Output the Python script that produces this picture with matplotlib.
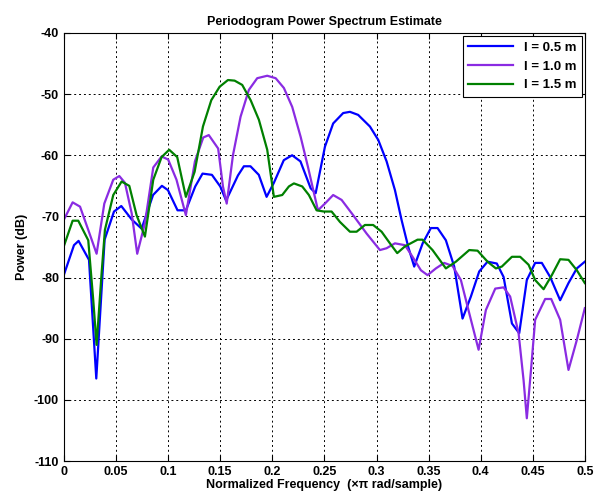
import matplotlib
matplotlib.use('Agg')
import matplotlib.pyplot as plt

# l = 0.5 m
f_05 = [0.0, 0.0096, 0.014, 0.024, 0.031, 0.039, 0.048, 0.055, 0.065, 0.0745, 0.0855, 0.094, 0.0998,
        0.109, 0.117, 0.126, 0.133, 0.142, 0.150, 0.1556, 0.167, 0.1727, 0.179, 0.187, 0.1945, 0.2015,
        0.211, 0.219, 0.227, 0.2368, 0.2416, 0.2505, 0.2584, 0.268, 0.2745, 0.2824, 0.2937, 0.3017,
        0.3097, 0.3177, 0.3241, 0.3305, 0.3362, 0.3443, 0.3522, 0.3586, 0.3666, 0.3746, 0.3826, 0.3906,
        0.3986, 0.4066, 0.4155, 0.422, 0.43, 0.437, 0.4443, 0.4523, 0.4587, 0.4667, 0.4763, 0.4843,
        0.4923, 0.5]
p_05 = [-79.5, -74.7, -74.0, -77.1, -96.5, -73.8, -69.2, -68.3, -70.5, -72.0, -66.5, -65.0, -65.7,
        -69.0, -69.0, -65.1, -63.0, -63.2, -65.1, -67.4, -63.3, -61.8, -61.8, -63.2, -66.8, -64.5,
        -60.8, -60.0, -61.0, -65.4, -66.2, -58.6, -54.8, -53.1, -52.9, -53.4, -55.3, -57.5,
        -61.0, -65.7, -70.6, -75.0, -78.2, -74.4, -71.9, -71.9, -73.9, -78.2, -86.7, -83.1,
        -79.0, -77.4, -77.7, -79.9, -87.5, -89.1, -80.4, -77.6, -77.6, -79.9, -83.7, -80.9,
        -78.5, -77.4]

# l = 1.0 m
f_10 = [0.0, 0.0083, 0.0154, 0.0233, 0.0313, 0.0387, 0.0473, 0.0531, 0.0585, 0.065, 0.0703, 0.0777,
        0.0857, 0.0937, 0.1, 0.108, 0.117, 0.1257, 0.1337, 0.139, 0.148, 0.1526, 0.1562, 0.1622,
        0.1695, 0.1775, 0.1855, 0.1951, 0.2032, 0.2111, 0.2191, 0.2272, 0.2342, 0.24, 0.2438, 0.2505,
        0.2584, 0.2665, 0.2776, 0.2905, 0.3033, 0.3097, 0.3177, 0.3273, 0.3346, 0.3426, 0.349, 0.357,
        0.365, 0.373, 0.381, 0.389, 0.398, 0.405, 0.414, 0.422, 0.4283, 0.4364, 0.4412, 0.4443,
        0.4485, 0.4523, 0.4619, 0.4677, 0.4763, 0.4843, 0.4923, 0.5]
p_10 = [-70.5, -67.7, -68.4, -72.2, -76.1, -67.9, -64.0, -63.4, -64.5, -69.5, -76.1, -71.1,
        -62.0, -60.2, -60.7, -64.0, -69.8, -61.0, -57.1, -56.7, -58.9, -65.1, -67.9, -60.0,
        -53.7, -49.3, -47.4, -47.0, -47.4, -49.0, -52.1, -57.0, -61.9, -66.2, -69.0, -67.9,
        -66.5, -67.3, -69.8, -72.8, -75.5, -75.2, -74.4, -74.7, -76.6, -78.8, -79.6, -78.5,
        -77.6, -78.1, -80.4, -85.8, -91.8, -85.3, -81.8, -81.6, -83.1, -89.1, -96.8, -103.0,
        -94.7, -86.9, -83.5, -83.5, -86.9, -95.1, -90.2, -85.0]

# l = 1.5 m
f_15 = [0.0, 0.0083, 0.0137, 0.0233, 0.0281, 0.0313, 0.0361, 0.0393, 0.0473, 0.0553, 0.0627, 0.0697,
        0.0777, 0.0857, 0.0937, 0.101, 0.1087, 0.117, 0.1254, 0.1334, 0.1414, 0.1494, 0.1574, 0.1638,
        0.1711, 0.1792, 0.1871, 0.1951, 0.2015, 0.2095, 0.2159, 0.2207, 0.2287, 0.2351, 0.2425, 0.2495,
        0.2569, 0.2649, 0.2745, 0.2809, 0.2889, 0.2968, 0.3049, 0.3129, 0.3199, 0.3273, 0.3394, 0.3442,
        0.3538, 0.3666, 0.3762, 0.389, 0.397, 0.4066, 0.4146, 0.4203, 0.43, 0.4379, 0.446, 0.4523,
        0.4604, 0.4683, 0.4763, 0.4843, 0.4923, 0.5]
p_15 = [-74.8, -70.7, -70.7, -73.9, -83.7, -91.0, -79.3, -72.2, -66.5, -64.3, -65.0, -69.8,
        -73.3, -64.0, -60.3, -59.1, -60.3, -66.8, -62.7, -55.3, -51.0, -48.8, -47.7, -47.8,
        -48.5, -51.0, -54.2, -59.1, -66.8, -66.5, -65.1, -64.6, -65.1, -66.5, -69.0, -69.2,
        -69.2, -70.9, -72.5, -72.5, -71.4, -71.4, -72.5, -74.4, -76.0, -74.9, -73.8, -73.8,
        -75.5, -78.5, -77.4, -75.5, -75.6, -77.4, -78.5, -78.2, -76.6, -76.6, -77.9, -80.4,
        -81.9, -79.6, -77.0, -77.1, -78.8, -80.9]

labels = ['l = 0.5 m', 'l = 1.0 m', 'l = 1.5 m']
colors = ['#0000ff', '#8a2be2', '#008000']

plt.rcParams['font.family'] = ['Liberation Sans Narrow', 'Liberation Sans', 'DejaVu Sans']
plt.rcParams['font.weight'] = 'bold'
plt.rcParams['axes.unicode_minus'] = False

fig = plt.figure(figsize=(5.98, 4.99), dpi=100)
ax = fig.add_axes([0.107, 0.076, 0.871, 0.858])

for f, p, lab, c in zip([f_05, f_10, f_15], [p_05, p_10, p_15], labels, colors):
    ax.plot(f, p, color=c, linewidth=1.6, label=lab)

ax.set_xlim(0, 0.5)
ax.set_ylim(-110, -40)
ax.set_xticks([0, 0.05, 0.1, 0.15, 0.2, 0.25, 0.3, 0.35, 0.4, 0.45, 0.5])
ax.set_xticklabels(['0', '0.05', '0.1', '0.15', '0.2', '0.25', '0.3', '0.35', '0.4', '0.45', '0.5'])
ax.set_yticks(range(-110, -39, 10))
ax.tick_params(direction='in', top=True, right=True, labelsize=9, length=4)
ax.grid(True, color='black', linestyle=(0, (2, 3)), linewidth=0.7)

ax.set_title('Periodogram Power Spectrum Estimate', fontsize=9, fontweight='bold')
ax.set_xlabel('Normalized Frequency  (\u00d7\u03c0 rad/sample)', fontsize=9, fontweight='bold', labelpad=1)
ax.set_ylabel('Power (dB)', fontsize=9, fontweight='bold')

leg = ax.legend(loc='upper right', fontsize=9.5, fancybox=False, framealpha=1,
                edgecolor='black', handlelength=3.4, borderaxespad=0.25)
leg.get_frame().set_linewidth(0.8)

fig.savefig('out.png', dpi=100)
